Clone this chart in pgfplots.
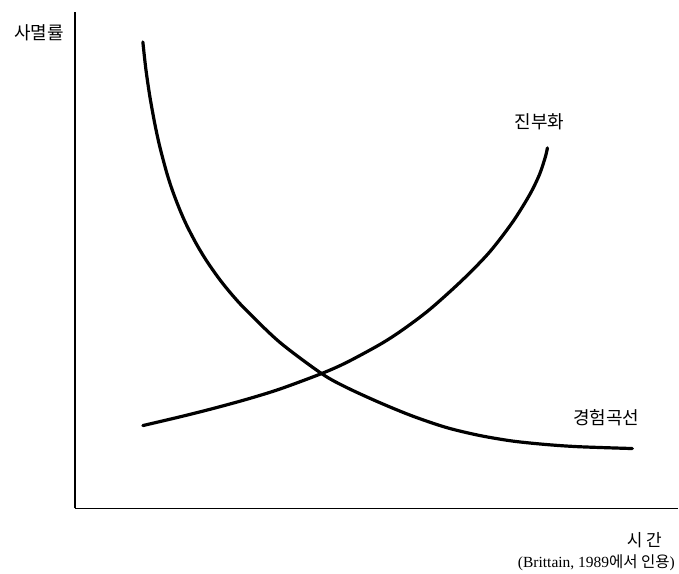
\documentclass[border=0pt]{standalone}
\usepackage{fontspec}
\setmainfont{Liberation Serif}
\newfontfamily\kr{Noto Sans CJK KR}
\usepackage{pgfplots}
\pgfplotsset{compat=1.18}

\begin{document}
\begin{tikzpicture}
\begin{axis}[
    scale only axis,
    x=1pt, y=1pt,
    xmin=75, xmax=679, ymin=64, ymax=561,
    axis lines=left,
    axis line style={line width=1.4pt, -},
    xtick=\empty, ytick=\empty,
    clip=false,
]
% invisible frame so the page keeps the reference size
\path (axis cs:0,0) rectangle (axis cs:679,573);

% experience curve (falling)
\addplot[black, line width=3.2pt, smooth, line cap=round] coordinates {
    (143,531) (146,503.9) (150,476.5) (155,448.9) (160,426) (167,399.7)
    (173,381.2) (180,363) (187,347.2) (197,328.1) (207,311.6) (220,293.1)
    (233,277.1) (247,262) (280,230.4) (322,199) (347,185.1) (380,170)
    (413,156.5) (447,145) (480,137.1) (513,131.5) (547,128) (580,125.8)
    (633,124)
};
% obsolescence (rising)
\addplot[black, line width=3.2pt, smooth, line cap=round] coordinates {
    (143,147) (180,155.7) (213,164) (247,173.3) (280,183.5) (322,199.1)
    (347,210.2) (380,228) (402,242.1) (430,263.1) (463,292.8) (490,320.6)
    (513,350.5) (530,377.7) (540,398.2) (546,416.2) (548,425)
};

\node[font=\fontsize{18}{20}\selectfont\kr] at (axis cs:39,540) {사멸률};
\node[font=\fontsize{18}{20}\selectfont\kr] at (axis cs:540,451) {진부화};
\node[font=\fontsize{18}{20}\selectfont\kr] at (axis cs:607,155) {경험곡선};
\node[font=\fontsize{17}{20}\selectfont\kr] at (axis cs:645,32) {시 간};
\node[anchor=east, font=\fontsize{15.5}{18}\selectfont] at (axis cs:679,10)
    {(Brittain, 1989{\kr 에서 인용})};
\end{axis}
\end{tikzpicture}
\end{document}
